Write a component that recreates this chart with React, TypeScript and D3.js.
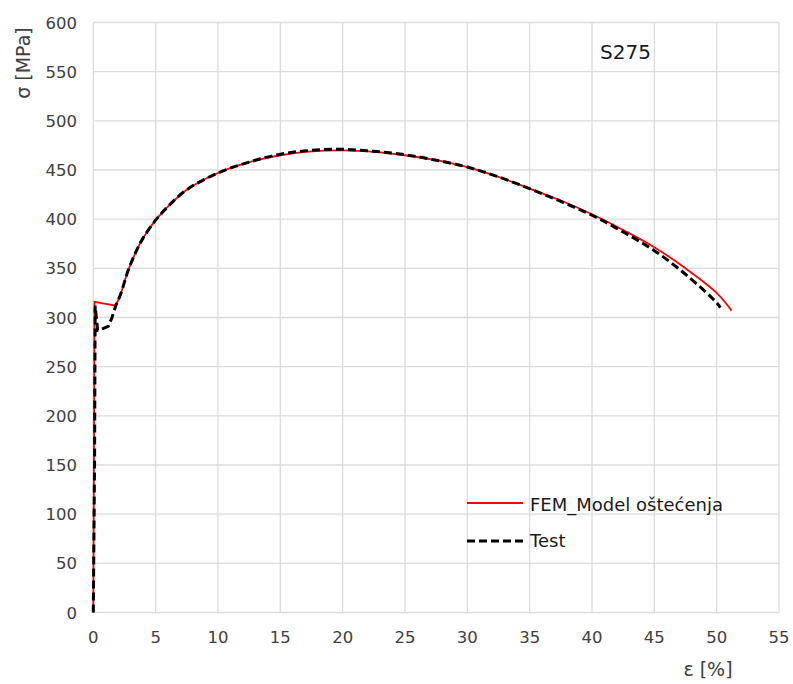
import React from "react";
import * as d3 from "d3";

const xTicks = [0, 5, 10, 15, 20, 25, 30, 35, 40, 45, 50, 55];
const yTicks = [0, 50, 100, 150, 200, 250, 300, 350, 400, 450, 500, 550, 600];

const femStrain = [0, 0.05, 0.1, 1.8, 2.2, 2.8, 3.5, 4, 5, 6, 7.5, 10, 12.5, 15, 17.5, 20, 22.5, 25, 27.5, 30, 32.5, 35, 37.5, 40, 42.5, 45, 47.5, 50, 51.2];
const femStress = [0, 150, 316, 312, 324, 348, 369, 381, 399, 413, 430, 447, 458, 465, 469, 470, 468.5, 465, 460, 453, 443, 431, 419, 405, 389, 371.5, 350, 325, 307];

const testStrain = [0, 0.1, 0.15, 0.35, 0.8, 1.2, 1.5, 1.8, 2.2, 2.8, 3.5, 4, 5, 6, 7.5, 10, 12.5, 15, 17.5, 20, 22.5, 25, 27.5, 30, 32.5, 35, 37.5, 40, 42.5, 45, 47.5, 50, 50.3];
const testStress = [0, 150, 312, 287, 289, 291, 300, 312, 324, 348, 369, 381, 399, 413, 430, 447, 458, 466, 470, 471, 469, 465.5, 460, 453, 443, 431, 418, 404, 387, 368, 344, 315, 310];

const seriesNames = ["FEM_Model oštećenja", "Test"];
const titleText = "S275";
const xLabel = "ε [%]";
const yLabel = "σ [MPa]";

export default function App() {
  const W = 793, H = 684;
  const left = 93.3, right = 779, top = 22.5, bottom = 612.5;
  const x = d3.scaleLinear().domain([0, 55]).range([left, right]);
  const y = d3.scaleLinear().domain([0, 600]).range([bottom, top]);
  const smooth = d3
    .line<[number, number]>()
    .x((d) => x(d[0]))
    .y((d) => y(d[1]))
    .curve(d3.curveCatmullRom.alpha(0.5));
  const straight = d3
    .line<[number, number]>()
    .x((d) => x(d[0]))
    .y((d) => y(d[1]));
  const fem: [number, number][] = femStrain.map((v, i) => [v, femStress[i]]);
  const test: [number, number][] = testStrain.map((v, i) => [v, testStress[i]]);
  // initial (elastic / yield plateau) part drawn straight, the hardening part smooth
  const split = (pts: [number, number][]) => {
    const k = pts.findIndex((p) => p[0] >= 1.8);
    const a = straight(pts.slice(0, k + 1)) || "";
    const b = (smooth(pts.slice(k)) || "").replace(/^M[^CL]*/, "");
    return a + b;
  };
  const font = "'DejaVu Sans', sans-serif";
  return (
    <svg width={W} height={H} style={{ position: "absolute", left: 0, top: 0, background: "#fff" }} fontFamily={font}>
      <rect width={W} height={H} fill="#fff" />
      {xTicks.map((t) => (
        <line key={"gx" + t} x1={x(t)} x2={x(t)} y1={top} y2={bottom} stroke="#dcdcdc" strokeWidth={1.3} />
      ))}
      {yTicks.map((t) => (
        <line key={"gy" + t} x1={left} x2={right} y1={y(t)} y2={y(t)} stroke="#dcdcdc" strokeWidth={1.3} />
      ))}
      {xTicks.map((t) => (
        <text key={"tx" + t} x={x(t)} y={643} textAnchor="middle" fontSize={16.5} fill="#404040">
          {t}
        </text>
      ))}
      {yTicks.map((t) => (
        <text key={"ty" + t} x={77} y={y(t) + 6} textAnchor="end" fontSize={16.5} fill="#404040">
          {t}
        </text>
      ))}
      <text x={708} y={676} textAnchor="middle" fontSize={19} fill="#404040">
        {xLabel}
      </text>
      <text transform="translate(30,63) rotate(-90)" textAnchor="middle" fontSize={19} fill="#404040">
        {yLabel}
      </text>
      <text x={600} y={58.5} fontSize={20} fill="#1a1a1a">
        {titleText}
      </text>
      <path d={split(fem)} fill="none" stroke="#ff0000" strokeWidth={1.8} />
      <path d={split(test)} fill="none" stroke="#000" strokeWidth={3} strokeDasharray="8,4" />
      <line x1={467} x2={523} y1={503} y2={503} stroke="#ff0000" strokeWidth={1.8} />
      <text x={530} y={510.5} fontSize={18} fill="#1a1a1a">
        {seriesNames[0]}
      </text>
      <line x1={467} x2={523} y1={541} y2={541} stroke="#000" strokeWidth={3} strokeDasharray="8,4" />
      <text x={530} y={546.5} fontSize={18} fill="#1a1a1a">
        {seriesNames[1]}
      </text>
    </svg>
  );
}
